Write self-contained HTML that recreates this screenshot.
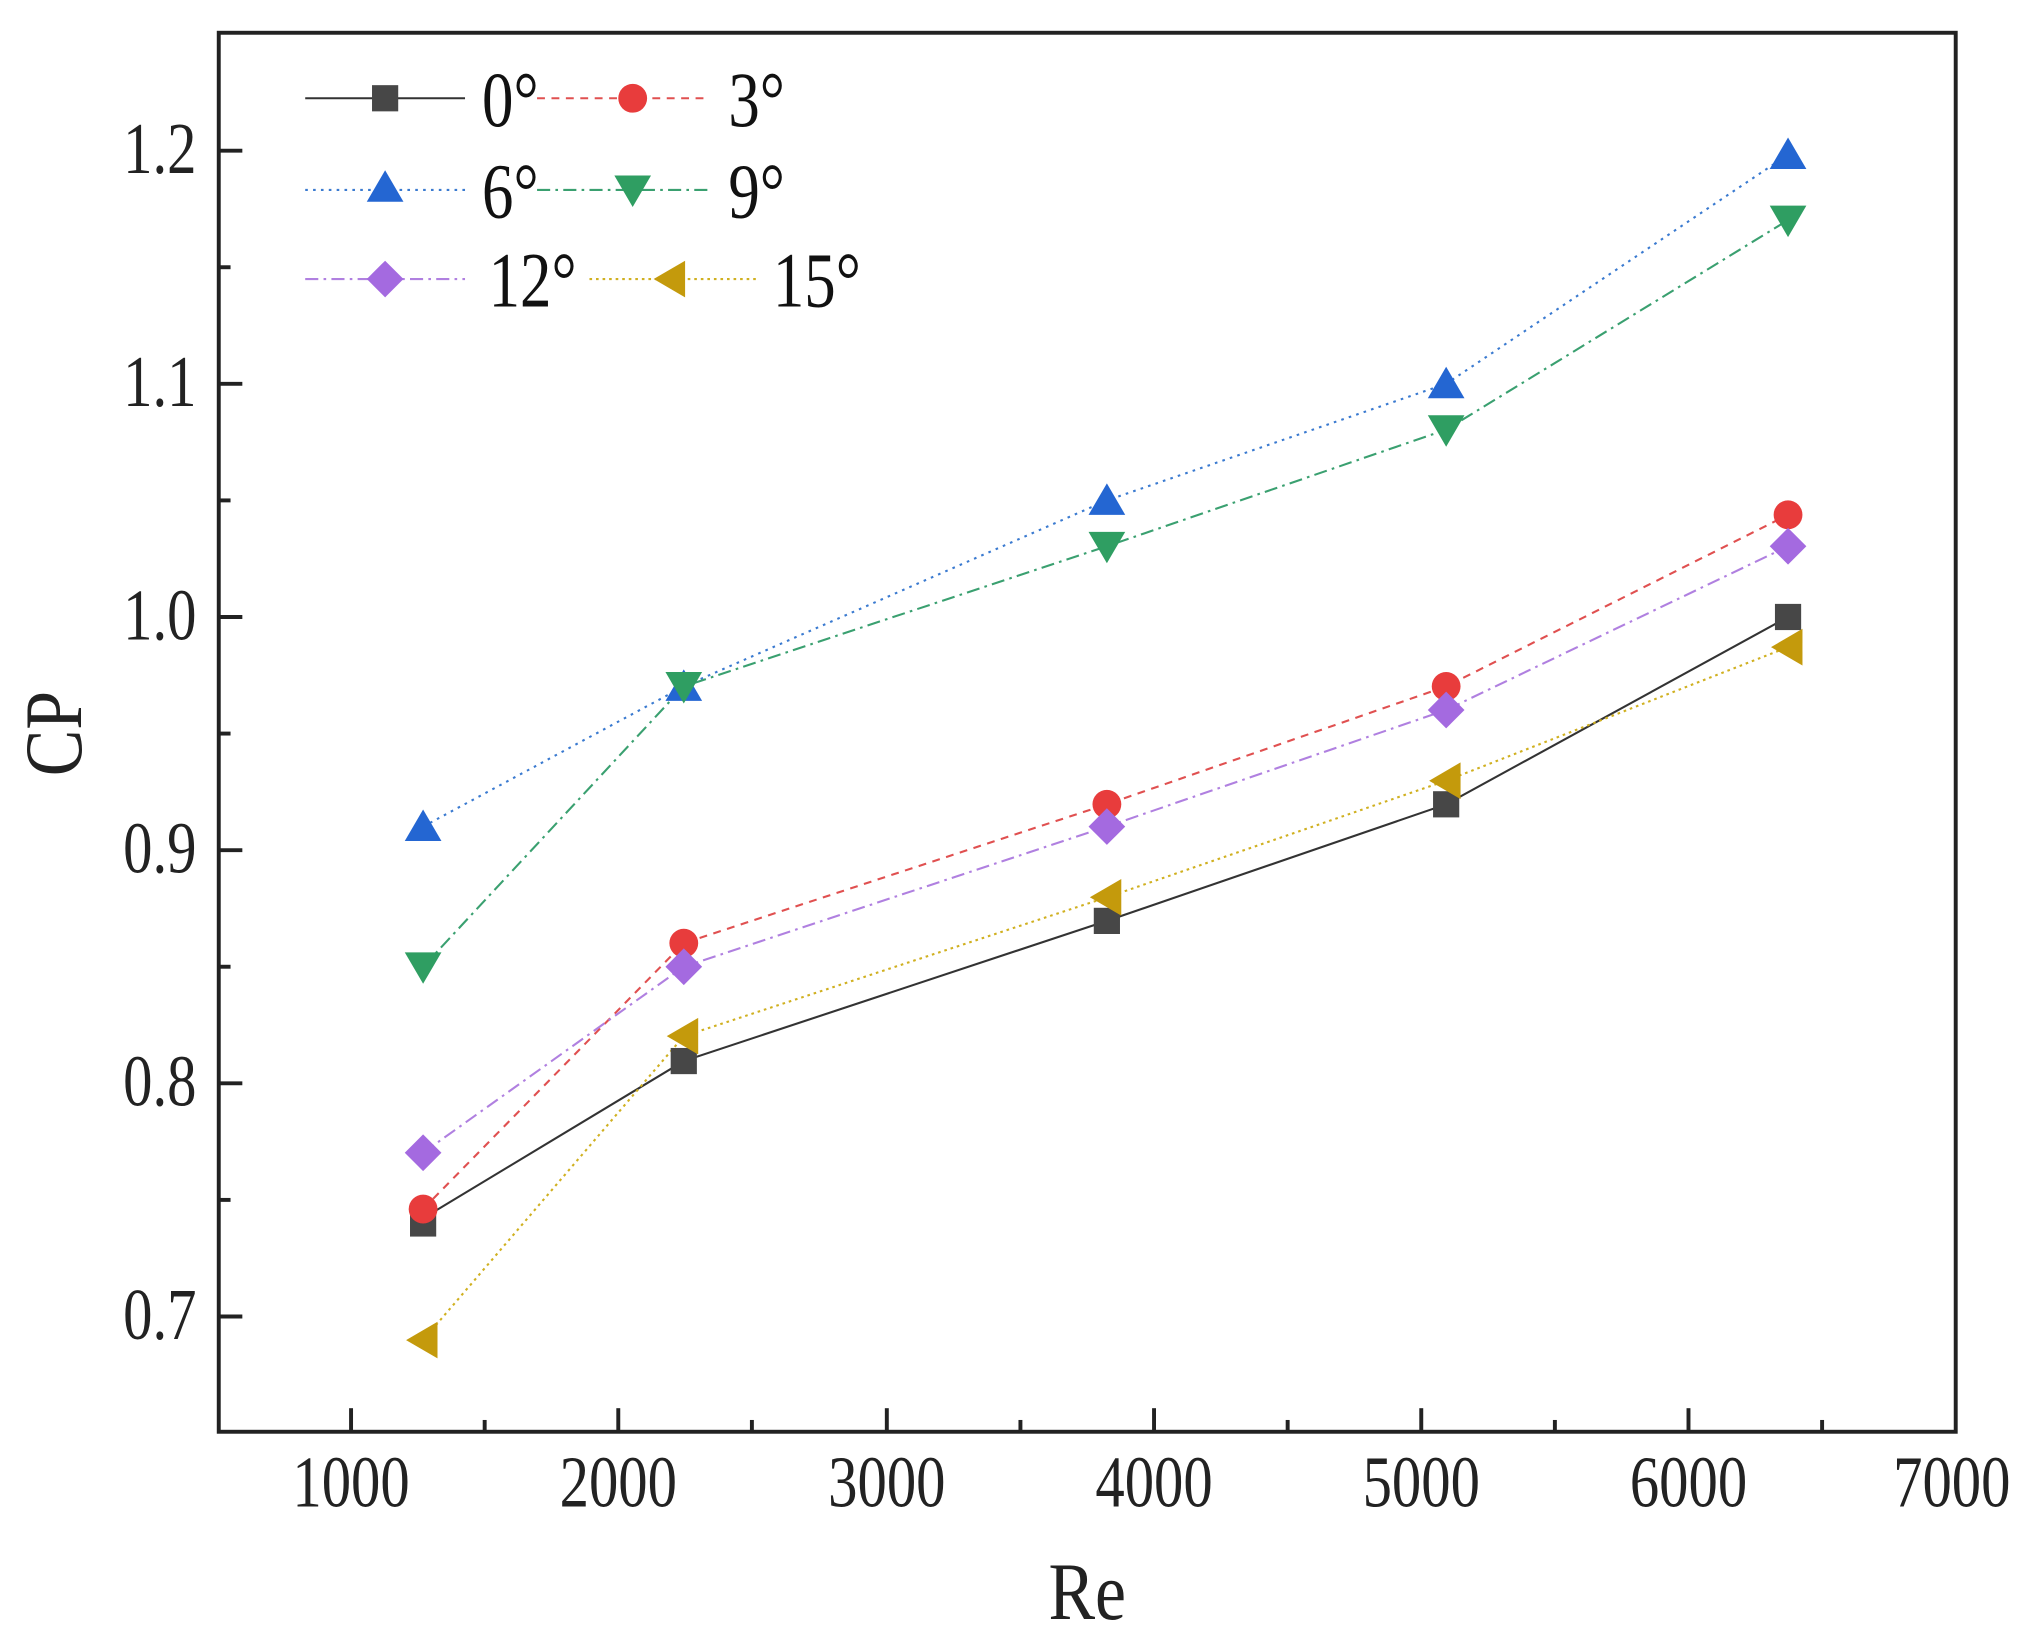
<!DOCTYPE html>
<html><head><meta charset="utf-8"><style>html,body{margin:0;padding:0;background:#fff}svg{display:block}</style></head>
<body>
<svg width="2033" height="1628" viewBox="0 0 1552 1242.8" xmlns="http://www.w3.org/2000/svg" font-family="Liberation Serif, serif">
<rect width="1552" height="1243" fill="#fff"/>
<defs>
<g id="sq"><rect x="-10" y="-10" width="20" height="20" fill="#474747"/></g>
<g id="ci"><circle r="11" fill="#e83c3c"/></g>
<g id="tu"><polygon points="0,-13 14,11 -14,11" fill="#2466d2"/></g>
<g id="td"><polygon points="0,13 14,-11 -14,-11" fill="#2f9e62"/></g>
<g id="di"><polygon points="0,-14 14,0 0,14 -14,0" fill="#a46ae0"/></g>
<g id="tl"><polygon points="-13,0 11,-14 11,14" fill="#c49a0c"/></g>
</defs>
<rect x="167" y="25" width="1326" height="1068" fill="none" stroke="#222" stroke-width="3"/>
<g stroke="#222" stroke-width="3">
<line x1="268" y1="1093" x2="268" y2="1075"/><line x1="472" y1="1093" x2="472" y2="1075"/><line x1="677" y1="1093" x2="677" y2="1075"/><line x1="881" y1="1093" x2="881" y2="1075"/><line x1="1085" y1="1093" x2="1085" y2="1075"/><line x1="1289" y1="1093" x2="1289" y2="1075"/>
<line x1="370" y1="1093" x2="370" y2="1084"/><line x1="574" y1="1093" x2="574" y2="1084"/><line x1="779" y1="1093" x2="779" y2="1084"/><line x1="983" y1="1093" x2="983" y2="1084"/><line x1="1187" y1="1093" x2="1187" y2="1084"/><line x1="1391" y1="1093" x2="1391" y2="1084"/>
<line x1="167" y1="115" x2="185" y2="115"/><line x1="167" y1="293" x2="185" y2="293"/><line x1="167" y1="471" x2="185" y2="471"/><line x1="167" y1="649" x2="185" y2="649"/><line x1="167" y1="827" x2="185" y2="827"/><line x1="167" y1="1005" x2="185" y2="1005"/>
<line x1="167" y1="204" x2="176" y2="204"/><line x1="167" y1="382" x2="176" y2="382"/><line x1="167" y1="560" x2="176" y2="560"/><line x1="167" y1="738" x2="176" y2="738"/><line x1="167" y1="916" x2="176" y2="916"/>
</g>
<g font-size="56" fill="#222" text-anchor="middle">
<text transform="translate(268,1150) scale(0.8,1)">1000</text>
<text transform="translate(472,1150) scale(0.8,1)">2000</text>
<text transform="translate(677,1150) scale(0.8,1)">3000</text>
<text transform="translate(881,1150) scale(0.8,1)">4000</text>
<text transform="translate(1085,1150) scale(0.8,1)">5000</text>
<text transform="translate(1289,1150) scale(0.8,1)">6000</text>
<text transform="translate(1490,1150) scale(0.8,1)">7000</text>
</g>
<g font-size="56" fill="#222" text-anchor="end">
<text transform="translate(150,132) scale(0.8,1)">1.2</text>
<text transform="translate(150,310) scale(0.8,1)">1.1</text>
<text transform="translate(150,488) scale(0.8,1)">1.0</text>
<text transform="translate(150,666) scale(0.8,1)">0.9</text>
<text transform="translate(150,844) scale(0.8,1)">0.8</text>
<text transform="translate(150,1022) scale(0.8,1)">0.7</text>
</g>
<text transform="translate(830,1236) scale(0.86,1)" font-size="62" text-anchor="middle" fill="#222">Re</text>
<text transform="translate(62,560) rotate(-90) scale(0.86,1)" font-size="62" text-anchor="middle" fill="#222">CP</text>
<g fill="none" stroke-width="1.6">
<polyline stroke="#333" points="323,930 522,810 845,703 1104,614 1365,471"/>
<polyline stroke="#e05050" stroke-dasharray="6,5" points="323,923 522,720 845,614 1104,524 1365,393"/>
<polyline stroke="#3a7ad0" stroke-dasharray="2,4" points="323,631 522,524 845,382 1104,293 1365,118"/>
<polyline stroke="#3aa070" stroke-dasharray="10,4,2,4" points="323,738 522,524 845,417 1104,328 1365,168"/>
<polyline stroke="#b080e0" stroke-dasharray="10,4,2,4" points="323,880 522,738 845,631 1104,542 1365,417"/>
<polyline stroke="#d0b020" stroke-dasharray="2,3" points="323,1023 522,791 845,685 1104,596 1365,494"/>
</g>
<g>
<use href="#sq" x="323" y="934"/><use href="#sq" x="522" y="810"/><use href="#sq" x="845" y="703"/><use href="#sq" x="1104" y="614"/><use href="#sq" x="1365" y="471"/>
<use href="#ci" x="323" y="923"/><use href="#ci" x="522" y="720"/><use href="#ci" x="845" y="614"/><use href="#ci" x="1104" y="524"/><use href="#ci" x="1365" y="393"/>
<use href="#tu" x="323" y="631"/><use href="#tu" x="522" y="524"/><use href="#tu" x="845" y="382"/><use href="#tu" x="1104" y="293"/><use href="#tu" x="1365" y="118"/>
<use href="#td" x="323" y="738"/><use href="#td" x="522" y="524"/><use href="#td" x="845" y="417"/><use href="#td" x="1104" y="328"/><use href="#td" x="1365" y="168"/>
<use href="#di" x="323" y="880"/><use href="#di" x="522" y="738"/><use href="#di" x="845" y="631"/><use href="#di" x="1104" y="542"/><use href="#di" x="1365" y="417"/>
<use href="#tl" x="323" y="1023"/><use href="#tl" x="522" y="791"/><use href="#tl" x="845" y="685"/><use href="#tl" x="1104" y="596"/><use href="#tl" x="1365" y="494"/>
</g>
<g fill="none" stroke-width="1.6">
<line x1="233" y1="75" x2="355" y2="75" stroke="#333"/>
<line x1="410" y1="75" x2="540" y2="75" stroke="#e05050" stroke-dasharray="6,5"/>
<line x1="233" y1="145" x2="355" y2="145" stroke="#3a7ad0" stroke-dasharray="2,4"/>
<line x1="410" y1="145" x2="540" y2="145" stroke="#3aa070" stroke-dasharray="10,4,2,4"/>
<line x1="233" y1="213" x2="355" y2="213" stroke="#b080e0" stroke-dasharray="10,4,2,4"/>
<line x1="450" y1="213" x2="580" y2="213" stroke="#d0b020" stroke-dasharray="2,3"/>
</g>
<use href="#sq" x="294" y="75"/><use href="#ci" x="483" y="75"/>
<use href="#tu" x="294" y="143"/><use href="#td" x="483" y="145"/>
<use href="#di" x="294" y="213"/><use href="#tl" x="512" y="213"/>
<g font-size="60" fill="#111">
<text transform="translate(368,96) scale(0.8,1)">0°</text>
<text transform="translate(556,96) scale(0.8,1)">3°</text>
<text transform="translate(368,166) scale(0.8,1)">6°</text>
<text transform="translate(556,166) scale(0.8,1)">9°</text>
<text transform="translate(373,234) scale(0.8,1)">12°</text>
<text transform="translate(590,234) scale(0.8,1)">15°</text>
</g>
</svg>
</body></html>
